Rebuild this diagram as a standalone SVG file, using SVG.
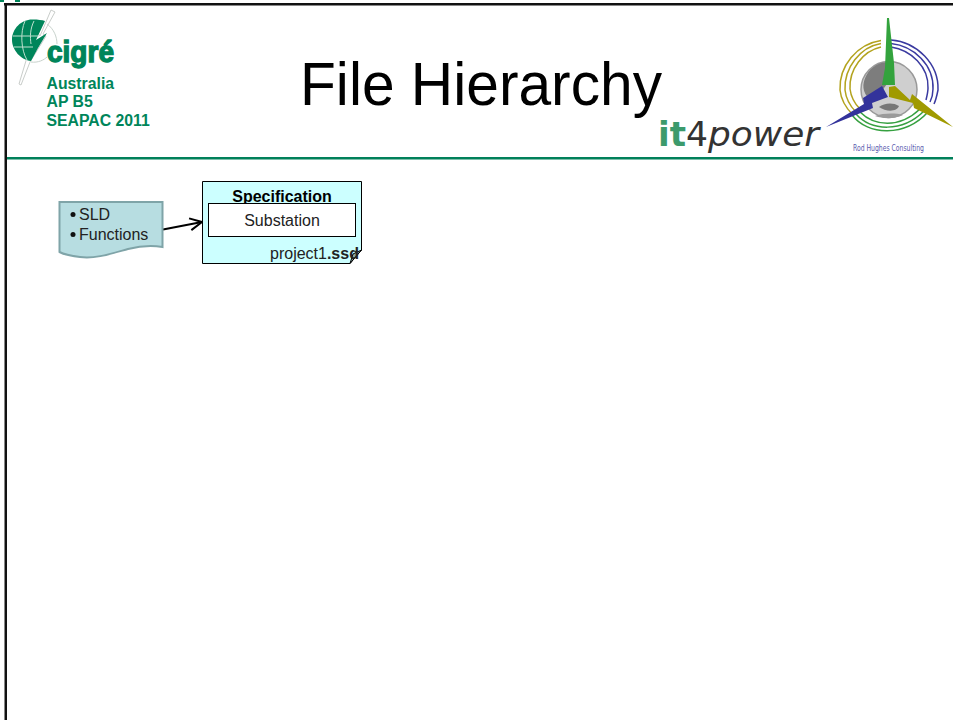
<svg xmlns="http://www.w3.org/2000/svg" width="953" height="720" viewBox="0 0 953 720">
<style>
text{font-family:"Liberation Sans",Arial,sans-serif}
.g{fill:#00855a;font-weight:bold;font-size:15.800px}
.t{fill:#222;font-size:16px}
.d{font-family:"DejaVu Sans",sans-serif}
</style>
<defs>
<marker id="arr" markerUnits="userSpaceOnUse" markerWidth="16" markerHeight="16" refX="13" refY="7" orient="auto" viewBox="0 0 16 14">
<path d="M1 1L13 7L1 13" fill="none" stroke="#000" stroke-width="2"/>
</marker>
</defs>
<rect width="953" height="720" fill="#fff"/>
<g id="frame">
<rect x="0" y="0" width="4" height="2" fill="#00855a"/>
<rect x="15" y="0" width="5" height="2" fill="#00855a"/>
<rect x="4" y="3" width="949" height="2.500" fill="#111"/>
<rect x="4.500" y="3" width="2.500" height="717" fill="#111"/>
<rect x="7" y="157" width="946" height="2.500" fill="#00805a"/>
</g>
<g id="cigre-logo">
<path d="M51 10L55 12L43 34L46 36L30 62L21 85L19 84L31 44L38 33L40 36Z" fill="#fff" stroke="#c9cdca" stroke-width="1"/>
<path d="M45 21L36 40L47 33L38 48L31 61C21 60 12 50 12 40C12 28 22 19 33 19.500C38 19.500 42 20 45 21Z" fill="#00855a"/>
<path d="M25 21C20 32 21 50 27 60M13 36H39M14 47H33M34 21C30 29 30 37 31 44" fill="none" stroke="#bfe0cf" stroke-width="1"/>
<path d="M47 24C54 29 57 37 57 44M31 62C38 63 44 60 47 57" fill="none" stroke="#c8d2cc" stroke-width="1"/>
<text x="47" y="61.500" fill="#00855a" stroke="#00855a" stroke-width="1.300" font-size="29" font-weight="bold" textLength="67" lengthAdjust="spacingAndGlyphs">cigré</text>
</g>
<g id="header-text">
<text class="g" x="46.500" y="89">Australia</text>
<text class="g" x="46.500" y="107">AP B5</text>
<text class="g" x="46.500" y="126">SEAPAC 2011</text>
<text x="300" y="105" fill="#000" font-size="61" textLength="362" lengthAdjust="spacingAndGlyphs">File Hierarchy</text>
</g>
<g id="it4power-logo">
<text class="d" x="658" y="146" font-size="33" fill="#3c9a6c" font-weight="bold" textLength="28" lengthAdjust="spacingAndGlyphs">it</text>
<text class="d" x="686" y="146" font-size="33" fill="#333" textLength="22" lengthAdjust="spacingAndGlyphs">4</text>
<text class="d" x="708" y="146" font-size="33" fill="#333" font-style="italic" textLength="111" lengthAdjust="spacingAndGlyphs">power</text>
</g>
<g id="rod-hughes-logo">
<circle cx="889" cy="89.500" r="28" fill="#cfcfcf" stroke="#999" stroke-width="1.500"/>
<path d="M866 76C871 66 880 62 889 62L887 84L881 92L878 100L870 100C862 92 862 84 866 76Z" fill="#7d7d7d"/>
<path d="M879 107C884 103 893 102 899 106C897 112 886 112 879 107Z" fill="#777"/>
<path d="M875 116C884 119 894 119 903 115C895 113 884 113 875 116Z" fill="#9a9a9a"/>
<g fill="none" stroke="#b3a31e" stroke-width="1.500">
<path d="M881 40.500C857 44 839 66 840 90C841 100 846 108 853 115"/>
<path d="M881 43.500C860 47 844 68 845 90C846 99 850 106 856 112"/>
<path d="M881 47C863 51 849 69 850 89C851 97 855 104 860 109"/>
</g>
<g fill="none" stroke="#3a3aa0" stroke-width="1.500">
<path d="M891 40C917 42 939 64 938 90C937 95 936 100 934 104"/>
<path d="M891 43.500C914 46 934 65 933 89C933 94 932 98 930 102"/>
<path d="M891 47C911 50 929 67 928 88C928 92 927 96 926 100"/>
</g>
<g fill="none" stroke="#36a040" stroke-width="1.500">
<path d="M852 115C868 136 905 137 928 112"/>
<path d="M856 114C871 131 902 133 924 111"/>
<path d="M860 112C874 126 899 129 920 109"/>
</g>
<path d="M887 18L889 18L894 63L895 85L882 85L885 68Z" fill="#33a33d"/>
<path d="M826 127L864 104L863 98L882 86L888 97L872 103L873 108Z" fill="#33339b"/>
<path d="M889 87L895 86L910 100L912 94L953 127L914 108L913 103L889 97Z" fill="#a09a00"/>
<text class="d" x="853" y="151" font-size="8" fill="#5a5aae" textLength="71" lengthAdjust="spacingAndGlyphs">Rod Hughes Consulting</text>
</g>
<g id="connectors">
<line x1="163" y1="229.500" x2="202" y2="222" stroke="#000" stroke-width="2" marker-end="url(#arr)"/>
</g>
<g id="input-doc">
<path d="M59.500 202H162.500V247C150 245 140 246 128 249C110 254 95 259 80 257C72 256 65 255 59.500 252Z" fill="#b7dde1" stroke="#7fa4a8" stroke-width="2"/>
<circle cx="73" cy="214.500" r="2.500" fill="#111"/>
<text class="t" x="79" y="220">SLD</text>
<circle cx="73" cy="234.500" r="2.500" fill="#111"/>
<text class="t" x="79" y="240">Functions</text>
</g>
<g id="specification">
<path d="M202.500 181.500H361.500V250L350 263.500H202.500Z" fill="#ccffff" stroke="#000" stroke-width="1"/>
<path d="M361.500 250L353 254L350 263.500Z" fill="#8aa8a8" stroke="#000" stroke-width="1"/>
<text x="282" y="202" text-anchor="middle" font-size="16" font-weight="bold" fill="#000">Specification</text>
<rect x="208.500" y="203.500" width="147" height="33" fill="#fff" stroke="#000" stroke-width="1"/>
<text x="282" y="226" text-anchor="middle" font-size="16" fill="#222">Substation</text>
<text x="270" y="259" font-size="16" fill="#222">project1<tspan font-weight="bold">.ssd</tspan></text>
</g>
</svg>
